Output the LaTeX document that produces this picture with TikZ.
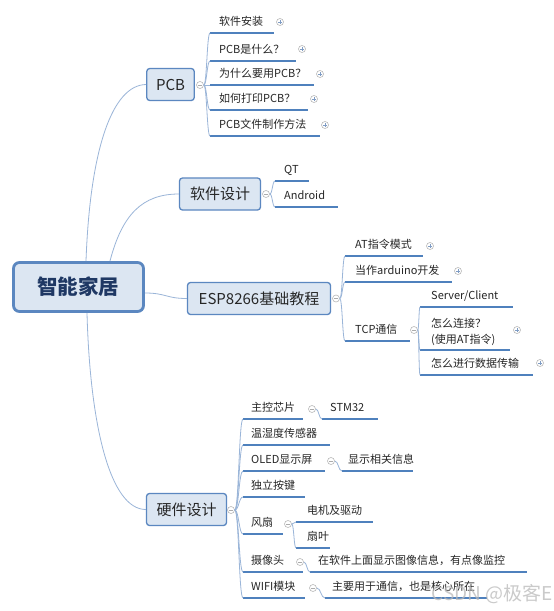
\documentclass[tikz,border=0pt]{standalone}
\usepackage{fontspec}
\setmainfont{Noto Sans CJK SC}
\usetikzlibrary{calc}
\definecolor{ulc}{HTML}{4F81BD}
\definecolor{connc}{HTML}{9AB5D8}
\definecolor{nodef}{HTML}{DCE6F2}
\definecolor{nodeb}{HTML}{5B87C0}
\definecolor{roott}{HTML}{1F3864}
\definecolor{txt}{HTML}{262626}
\definecolor{markc}{HTML}{7F9CC4}
\tikzset{
  leaf/.style={anchor=base west, inner sep=0pt, font=\fontsize{11}{13}\selectfont, text=txt},
  uline/.style={draw=ulc, line width=1.5pt},
  conn/.style={draw=connc, line width=0.8pt},
  branch/.style={draw=nodeb, fill=nodef, rounded corners=3pt, line width=1.3pt, inner sep=0pt,
    font=\fontsize{15}{18}\selectfont, text=txt, minimum height=32pt},
  rootbox/.style={draw=nodeb, fill=nodef, rounded corners=6pt, line width=2.8pt, inner sep=0pt,
    minimum width=130pt, minimum height=49pt, font=\bfseries\fontsize{20.5}{24}\selectfont, text=roott},
  coll/.style={circle, draw=gray!55, fill=white, line width=0.6pt, minimum size=7pt, inner sep=0pt,
    path picture={\draw[gray!65,line width=0.7pt] ([xshift=-2pt]path picture bounding box.center) -- ([xshift=2pt]path picture bounding box.center);}},
  expd/.style={circle, draw=gray!55, fill=white, line width=0.6pt, minimum size=7pt, inner sep=0pt,
    path picture={\draw[markc,line width=0.8pt] ([xshift=-1.6pt]path picture bounding box.center) -- ([xshift=1.6pt]path picture bounding box.center)
      ([yshift=-1.6pt]path picture bounding box.center) -- ([yshift=1.6pt]path picture bounding box.center);}},
  wmark/.style={inner sep=0pt, font=\fontsize{19}{22}\selectfont, text=gray!55, opacity=0.75}
}
% #1 text offset, #2 name, #3 x1, #4 x2, #5 y of underline, #6 text
\newcommand\mleaf[6][9]{%
  \coordinate (#2s) at (#3,#5);
  \coordinate (#2e) at (#4,#5);
  \draw[uline] (#2s) -- (#2e);
  \node[leaf] (#2) at ({#3+#1},{#5-8}) {#6};}
\newcommand\mconn[2]{%
  \draw[conn] let \p1=(#1.east), \p2=(#2), \p3=($(#1.east)!0.5!(#2)$) in
    (\p1) .. controls (\x3,\y1) and (\x3,\y2) .. (\p2);}
\begin{document}
\begin{tikzpicture}[x=1pt,y=-1pt]
\path[use as bounding box] (0,0) rectangle (554,611);
\fill[white] (0,0) rectangle (554,611);

% ---------- main nodes ----------
\node[rootbox] (root) at (78.5,287) {智能家居};
\node[branch, minimum width=47.5pt] (pcb) at (170.5,84.5) {PCB};
\node[branch, minimum width=81pt] (sw) at (220,194) {软件设计};
\node[branch, minimum width=143pt] (esp) at (259,298.5) {ESP8266基础教程};
\node[branch, minimum width=80pt] (hw) at (186.5,509.5) {硬件设计};

% ---------- root connectors ----------
\coordinate (rA) at (86,261);
\coordinate (rB) at (110,261);
\coordinate (rC) at (145,293);
\coordinate (rD) at (87,313);
\draw[conn] (rA) .. controls (90,150) and (112,85) .. (pcb.west);
\draw[conn] (rB) .. controls (122,215) and (142,194) .. (sw.west);
\draw[conn] (rC) .. controls (166,293) and (166,298.5) .. (esp.west);
\draw[conn] (rD) .. controls (90,425) and (110,509.5) .. (hw.west);

% ---------- collapse markers ----------
\node[coll] (pcbc) at (200,85) {};
\node[coll] (swc) at (266,194) {};
\node[coll] (espc) at (336,298.5) {};
\node[coll] (hwc) at (231,510) {};

% ---------- PCB ----------
\mleaf{p1}{210}{274}{33}{软件安装}
\mleaf{p2}{210}{296}{61}{PCB是什么？}
\mleaf{p3}{210}{314}{85}{为什么要用PCB？}
\mleaf{p4}{210}{308}{110}{如何打印PCB？}
\mleaf{p5}{210}{320}{136}{PCB文件制作方法}
\foreach \c in {p1s,p2s,p3s,p4s,p5s} {\mconn{pcbc}{\c}}
\node[expd] (p1x) at (280,22) {};
\node[expd] (p2x) at (302,49) {};
\node[expd] (p3x) at (320,74) {};
\node[expd] (p4x) at (314,99) {};
\node[expd] (p5x) at (325,125) {};

% ---------- software ----------
\mleaf{s1}{275}{309}{181}{QT}
\mleaf{s2}{275}{338}{207}{Android}
\mconn{swc}{s1s}
\mconn{swc}{s2s}

% ---------- ESP8266 ----------
\mleaf[10]{e1}{345}{423}{256}{AT指令模式}
\mleaf[10]{e2}{345}{452}{282}{当作arduino开发}
\mleaf[10]{e3}{345}{410}{341}{TCP通信}
\foreach \c in {e1s,e2s,e3s} {\mconn{espc}{\c}}
\node[expd] (e1x) at (430,246) {};
\node[expd] (e2x) at (458,271) {};
\node[coll] (tcpc) at (414,330) {};

\mleaf[11]{t1}{420}{513}{307}{Server/Client}
\coordinate (t2s) at (420,350);
\coordinate (t2e) at (510,350);
\draw[uline] (t2s) -- (t2e);
\node[leaf, anchor=south west, align=left, font=\fontsize{11}{16.5}\selectfont] (t2) at (431,346) {怎么连接？\\(使用AT指令)};
\mleaf[11]{t3}{420}{533}{375}{怎么进行数据传输}
\foreach \c in {t1s,t2s,t3s} {\mconn{tcpc}{\c}}
\node[expd] (t2x) at (517,330) {};
\node[expd] (t3x) at (540,363) {};

% ---------- hardware ----------
\mleaf[8]{h1}{243}{303}{419}{主控芯片}
\mleaf[8]{h2}{243}{330}{445}{温湿度传感器}
\mleaf[8]{h3}{243}{325}{471}{OLED显示屏}
\mleaf[8]{h4}{243}{305}{497}{独立按键}
\mleaf[8]{h5}{243}{283}{534}{风扇}
\mleaf[8]{h6}{243}{303}{572}{摄像头}
\mleaf[8]{h7}{243}{305}{598}{WIFI模块}
\foreach \c in {h1s,h2s,h3s,h4s,h5s,h6s,h7s} {\mconn{hwc}{\c}}

\node[coll] (h1c) at (312,409) {};
\mleaf[8]{h1a}{322}{378}{419}{STM32}
\mconn{h1c}{h1as}

\node[coll] (h3c) at (331,461) {};
\mleaf[6]{h3a}{342}{413}{471}{显示相关信息}
\mconn{h3c}{h3as}

\node[coll] (h5c) at (288,524) {};
\mleaf[11]{h5a}{296}{373}{522}{电机及驱动}
\mleaf[11]{h5b}{296}{330}{548}{扇叶}
\mconn{h5c}{h5as}
\mconn{h5c}{h5bs}

\node[coll] (h6c) at (300,562) {};
\mleaf[8]{h6a}{310}{527}{572}{在软件上面显示图像信息，有点像监控}
\mconn{h6c}{h6as}

\node[coll] (h7c) at (313,588) {};
\mleaf[7]{h7a}{325}{487}{598}{主要用于通信，也是核心所在}
\mconn{h7c}{h7as}

% ---------- watermark ----------
\node[wmark, anchor=east] (wm) at (553,594) {CSDN @极客E};
\end{tikzpicture}
\end{document}
